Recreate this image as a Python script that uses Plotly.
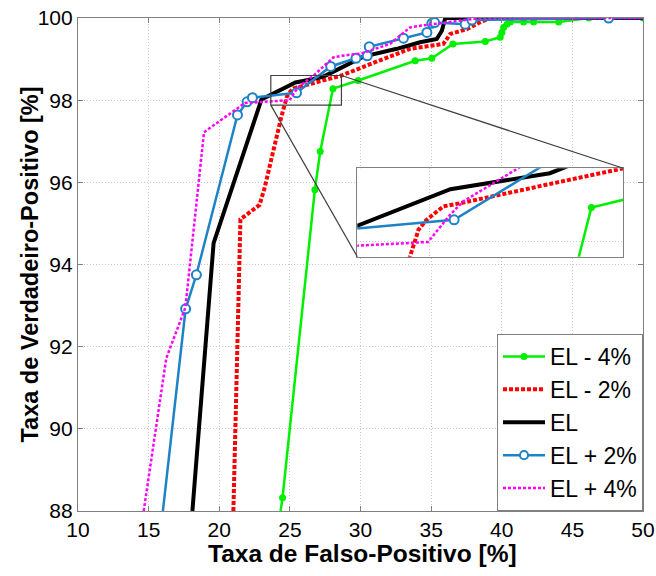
import plotly.graph_objects as go

# ---------------- data ----------------
x_m4 = [24.30, 24.48, 26.77, 27.15, 28.05, 29.84, 33.87, 35.05, 36.54, 38.83, 39.89, 40.01, 40.13,
        40.37, 40.60, 41.55, 42.26, 44.03, 46.16, 50.0]
y_m4 = [87.90, 88.32, 95.82, 96.75, 98.28, 98.48, 98.96, 99.02, 99.37, 99.43, 99.53, 99.65, 99.77,
        99.85, 99.90, 99.90, 99.90, 99.90, 100.0, 100.0]

x_m2 = [21.00, 21.35, 21.50, 22.85, 23.20, 24.40, 24.64, 24.80, 24.95, 25.27, 25.58, 28.65, 31.38,
        33.51, 35.87, 36.35, 37.53, 38.24, 38.60, 39.30, 50.0]
y_m2 = [88.00, 93.50, 95.10, 95.45, 95.85, 97.60, 97.88, 98.10, 98.18, 98.29, 98.315, 98.60, 98.97,
        99.25, 99.37, 99.61, 99.73, 99.85, 99.92, 100.0, 100.0]

x_el = [18.10, 19.60, 22.99, 25.40, 27.27, 27.59, 30.20, 32.57, 34.22, 35.40, 35.76, 35.87, 36.00, 50.0]
y_el = [88.00, 94.52, 98.02, 98.43, 98.56, 98.61, 99.06, 99.25, 99.41, 99.49, 99.69, 99.85, 100.0, 100.0]

x_p2 = [16.01, 17.62, 18.38, 21.29, 21.97, 22.35, 25.47, 27.89, 29.68, 30.48, 30.62, 33.04, 34.70,
        35.05, 35.25, 37.41, 37.89, 47.57, 50.0]
y_p2 = [88.00, 92.92, 93.75, 97.64, 97.96, 98.06, 98.18, 98.82, 99.02, 99.08, 99.30, 99.51, 99.65,
        99.87, 99.89, 99.85, 99.95, 100.0, 100.0]
m_p2 = [False, True, True, True, True, True, True, True, True, True, True, True, True,
        True, True, True, True, True, False]

x_p4 = [14.65, 16.25, 17.60, 18.92, 21.81, 23.67, 24.98, 25.39, 25.64, 26.71, 28.07, 28.67, 30.09,
        32.09, 33.51, 34.22, 37.06, 38.50, 50.0]
y_p4 = [88.00, 91.72, 92.95, 97.22, 97.93, 97.97, 98.00, 98.22, 98.33, 98.61, 99.04, 99.08, 99.14,
        99.37, 99.77, 99.81, 99.93, 100.0, 100.0]

names = ["EL - 4%", "EL - 2%", "EL", "EL + 2%", "EL + 4%"]
x_title = "Taxa de Falso-Positivo [%]"
y_title = "Taxa de Verdadeiro-Positivo [%]"

x_range = [10, 50]
y_range = [88, 100]
x_ticks = [10, 15, 20, 25, 30, 35, 40, 45, 50]
y_ticks = [88, 90, 92, 94, 96, 98, 100]

zoom_x = [23.65, 28.65]
zoom_y = [97.88, 98.60]

# ---------------- figure ----------------
FONT = "Liberation Sans, Arial, sans-serif"
GREEN = "#00f000"
RED = "#ff0000"
BLACK = "#000000"
BLUE = "#1e83c6"
MAG = "#ff00ff"

blue_sizes = [9 if m else 0 for m in m_p2]

def traces(xa, ya, show):
    out = []
    out.append(go.Scatter(x=x_m4, y=y_m4, name=names[0], mode="lines+markers",
                          line=dict(color=GREEN, width=2.5),
                          marker=dict(color=GREEN, size=7, symbol="circle", opacity=1),
                          xaxis=xa, yaxis=ya, showlegend=show))
    out.append(go.Scatter(x=x_m2, y=y_m2, name=names[1], mode="lines",
                          line=dict(color=RED, width=4, dash="4px,2px"),
                          xaxis=xa, yaxis=ya, showlegend=show))
    out.append(go.Scatter(x=x_el, y=y_el, name=names[2], mode="lines",
                          line=dict(color=BLACK, width=4),
                          xaxis=xa, yaxis=ya, showlegend=show))
    out.append(go.Scatter(x=x_p2, y=y_p2, name=names[3], mode="lines+markers",
                          line=dict(color=BLUE, width=2.5),
                          marker=dict(color="white", size=blue_sizes, symbol="circle", opacity=1,
                                      line=dict(color=BLUE, width=2)),
                          xaxis=xa, yaxis=ya, showlegend=show))
    out.append(go.Scatter(x=x_p4, y=y_p4, name=names[4], mode="lines",
                          line=dict(color=MAG, width=2.5, dash="3px,2px"),
                          xaxis=xa, yaxis=ya, showlegend=show))
    return out

fig = go.Figure()
for t in traces("x", "y", True):
    fig.add_trace(t)
for t in traces("x2", "y2", False):
    fig.add_trace(t)

L, R, T, B = 78, 13, 18, 65
W, H = 656, 576
pw, ph = W - L - R, H - T - B

def px2paper_x(px):
    return (px - L) / pw

def px2paper_y(py):
    return 1 - (py - T) / ph

def data2paper(x, y):
    return ((x - x_range[0]) / (x_range[1] - x_range[0]),
            (y - y_range[0]) / (y_range[1] - y_range[0]))

ins_x = [px2paper_x(357.3), px2paper_x(623.3)]
ins_y = [px2paper_y(256.7), px2paper_y(168.3)]

GRID = "#c8c8c8"
AXC = "#808080"

axis_common = dict(showline=True, linecolor=AXC, linewidth=1.2, mirror="allticks",
                   ticks="inside", ticklen=5, tickcolor=AXC, showgrid=True,
                   gridcolor=GRID, griddash="1px,2px", gridwidth=1, zeroline=False,
                   automargin=False,
                   tickfont=dict(family=FONT, size=21, color="black"))

fig.update_layout(
    width=W, height=H,
    margin=dict(l=L, r=R, t=T, b=B, autoexpand=False),
    paper_bgcolor="white", plot_bgcolor="white",
    font=dict(family=FONT, color="black"),
    xaxis=dict(range=x_range, tickvals=x_ticks, domain=[0, 1], **axis_common),
    yaxis=dict(range=y_range, tickvals=y_ticks, domain=[0, 1], **axis_common),
    xaxis2=dict(range=zoom_x, domain=ins_x, anchor="y2", tickvals=[25], showticklabels=False,
                showline=True, linecolor=AXC, linewidth=1.2, mirror=True, ticks="",
                showgrid=True, gridcolor=GRID, griddash="1px,2px", zeroline=False),
    yaxis2=dict(range=zoom_y, domain=ins_y, anchor="x2", tickvals=[98], showticklabels=False,
                showline=True, linecolor=AXC, linewidth=1.2, mirror=True, ticks="",
                showgrid=True, gridcolor=GRID, griddash="1px,2px", zeroline=False),
    legend=dict(x=px2paper_x(643), y=px2paper_y(334), xanchor="right", yanchor="top",
                bgcolor="white", bordercolor=AXC, borderwidth=1,
                font=dict(family=FONT, size=23, color="black"),
                itemwidth=42, tracegroupgap=0),
    annotations=[
        dict(text=x_title, xref="paper", yref="paper", x=px2paper_x(362), y=px2paper_y(553),
             xanchor="center", yanchor="middle", showarrow=False,
             font=dict(family=FONT, size=24.5, weight="bold", color="black")),
        dict(text=y_title, xref="paper", yref="paper", x=px2paper_x(29.5), y=px2paper_y(265),
             xanchor="center", yanchor="middle", showarrow=False, textangle=-90,
             font=dict(family=FONT, size=23.5, weight="bold", color="black")),
    ],
)

shapes = []
# white background of the inset
shapes.append(dict(type="rect", xref="x2 domain", yref="y2 domain", x0=0, x1=1, y0=0, y1=1,
                   fillcolor="white", line=dict(width=0), layer="below"))
# zoom rectangle on main axes
shapes.append(dict(type="rect", xref="x", yref="y", x0=zoom_x[0], x1=zoom_x[1],
                   y0=zoom_y[0], y1=zoom_y[1], line=dict(color="#404040", width=1.2),
                   layer="above"))
# connectors
tr = data2paper(zoom_x[1], zoom_y[1])
bl = data2paper(zoom_x[0], zoom_y[0])
shapes.append(dict(type="line", xref="paper", yref="paper", x0=tr[0], y0=tr[1],
                   x1=ins_x[1], y1=ins_y[1], line=dict(color="#404040", width=1.2), layer="above"))
shapes.append(dict(type="line", xref="paper", yref="paper", x0=bl[0], y0=bl[1],
                   x1=ins_x[0], y1=ins_y[0], line=dict(color="#404040", width=1.2), layer="above"))
fig.update_layout(shapes=shapes)

fig.write_html("out.html")
